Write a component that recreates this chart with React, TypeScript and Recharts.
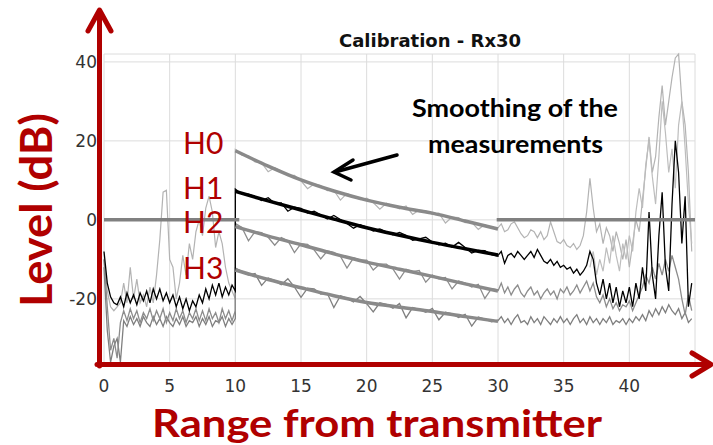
import React from 'react';
import { LineChart, Line, XAxis, YAxis, CartesianGrid } from 'recharts';

// sampling grids (x in range units)
const xLeft = Array.from({ length: 41 }, (_, i) => i * 0.25);
const xMid = Array.from({ length: 41 }, (_, i) => 10 + i * 0.5);
const xRight = Array.from({ length: 60 }, (_, i) => 30 + i * 0.25);
const xSmooth = [10, 12.5, 15, 17.5, 20, 22.5, 25, 27.5, 30];

const xTicks = [0, 5, 10, 15, 20, 25, 30, 35, 40];
const yTicks = [-20, 0, 20, 40];

// H0 raw (light grey)
const raw0Left = [-10, -18, -22, -23, -22, -21, -16, -21, -12, -20, -15, -21, -19, -22, -17, -21, -14, -5, 7, 7.5, -10, -12, -20, -16, -9, -14, -6, -10, -3, 0, -4, 3, 6, 2, -7, -3, -6, -12, -16, -18, -20];
const raw0Mid = [17.8, 16.4, 16.2, 14.7, 14.4, 12.2, 13.2, 12.4, 11.2, 11.3, 9.9, 7.9, 9.1, 8.7, 7.4, 7.5, 5.0, 6.7, 5.9, 5.1, 5.5, 4.4, 2.7, 4.2, 3.6, 2.8, 3.5, 1.4, 2.5, 2.3, 1.4, 1.7, -0.8, 0.7, 0.6, -0.7, -0.6, -2.4, -1.2, -2.1, -2.0];
const raw0Right = [-2, -1, -3, -2.5, -1, -0.5, -2, -3.5, -4.5, -4, -2.5, -3, -4.5, -3, -5, -4, -0.5, -3, -5.5, -6, -5, -6.5, -7, -6, -7.5, -6.5, -4, 2, 10.5, 3, -3, -1, -6, -2, -4, -8, -3, -6, -10, -5, -12, -6, 0, -3, 5, 13, 21, 12, 16, 26, 34, 24, 30, 36, 41, 42, 30, 24, 12, -8];
const rawExtra = [-12, -8, -14, -10, -13, -7, -11, -4, -9, -13, -6, -10, -4, -8, 2, 8, 3, 14, 20, 11, 4, 16, 30, 22, 12, 18, 8, 24, 30, 18, 4, -6];

// H1 raw (black)
const raw1Left = [-8, -16, -19.5, -21, -21.5, -19.5, -22, -18.5, -21, -19, -21.5, -18.5, -20.5, -18, -21, -17.5, -20, -17.5, -20.5, -18.5, -21, -19, -22, -19.5, -22.5, -20, -23, -20.5, -22, -19, -21, -17.5, -20, -16.5, -19, -16, -19.5, -17, -19, -16.5, -18];
const raw1Mid = [7.8, 6.5, 6.5, 5.9, 4.9, 5.6, 4.2, 4.3, 2.2, 3.2, 2.9, 1.7, 2.2, 1.3, 0.2, 1.1, 0.1, -0.9, -2.1, -1.2, -1.8, -2.8, -2.3, -3.0, -3.8, -3.2, -3.9, -5.2, -4.8, -4.4, -5.6, -6.3, -5.9, -6.9, -5.7, -7.0, -8.4, -7.7, -7.8, -8.8, -9.2];
const raw1Right = [-9, -8, -11, -9, -8.5, -9.5, -8, -9, -10, -9, -8, -9.5, -7.5, -9, -10.5, -11, -10, -11.5, -10.5, -12, -11.5, -12.5, -12, -13.5, -12.5, -14, -13, -11.5, -8, -10, -16, -19, -15, -20, -16, -21, -17, -22, -18, -21, -17, -22, -16, -20, -12, -18, 2, -14, -20, -4, 7, -12, -18, 4, 20, 12, -6, 6, -22, -16];

// H2 raw (grey)
const raw2Left = [-10, -22, -33, -30, -35, -26, -23, -25.5, -22.5, -25, -23, -26, -23.5, -25, -22.5, -25.5, -23, -25, -22.5, -26, -23.5, -25.5, -22.5, -25, -23, -26, -23.5, -25, -22.5, -25.5, -23, -25.5, -22.5, -25, -23.5, -26, -22.5, -25, -23, -25.5, -23];
const raw2Mid = [-0.9, -1.9, -5.3, -3.0, -3.2, -4.4, -6.4, -4.5, -5.3, -8.3, -6.0, -6.2, -7.6, -9.9, -7.9, -8.2, -9.2, -12.2, -9.6, -10.2, -10.2, -12.7, -11.2, -11.2, -12.4, -15.0, -12.5, -13.1, -12.8, -15.8, -14.0, -14.9, -14.6, -17.5, -15.5, -16.0, -17.0, -16.3, -19.9, -17.4, -17.7];
const raw2Right = [-18, -16, -18.5, -17, -19, -17.5, -16.5, -18.5, -19.5, -18, -17, -19, -18, -20, -18.5, -17.5, -19, -18, -20, -17.5, -18.5, -17, -19, -18, -16.5, -18.5, -17, -15.5, -18, -16, -19.5, -21, -19, -22, -20, -22.5, -21, -23, -21.5, -22, -20.5, -23, -21, -19, -17, -14, -16, -12, -15, -11, -14, -10, -13, -9, -12, -15, -20, -24, -19, -23];

// H3 raw (grey)
const raw3Left = [-12, -28, -36, -32, -30, -36, -25.5, -27, -24.5, -26.5, -25, -27, -24.5, -26, -27, -24.5, -26.5, -25, -27, -24.5, -26, -27, -25, -26.5, -24.5, -27, -25.5, -26, -24.5, -27, -25, -26.5, -24.5, -27, -25.5, -26, -24.5, -27, -25, -26.5, -25];
const raw3Mid = [-12.2, -13.0, -14.0, -13.6, -16.6, -14.7, -15.4, -16.4, -14.9, -17.0, -19.6, -17.3, -17.5, -18.8, -18.6, -22.2, -19.2, -19.8, -20.8, -19.4, -21.2, -23.3, -21.0, -21.4, -22.4, -21.2, -24.8, -22.2, -22.7, -23.4, -22.4, -25.3, -23.4, -23.8, -24.7, -23.9, -26.9, -24.6, -25.1, -25.8, -25.4];
const raw3Right = [-25.5, -24.5, -26, -25, -26.5, -25, -24, -26, -25.5, -26.5, -24.5, -26, -25, -26.5, -24.5, -25.5, -26.5, -25, -26, -24.5, -26, -25, -26.5, -25, -24, -26, -25, -26.5, -24.5, -26, -25, -26.5, -25, -26, -24.5, -26.5, -25.5, -26, -25, -26.5, -25, -26, -24.5, -25.5, -24, -25.5, -23, -24.5, -22.5, -24, -22, -23.5, -21.5, -23, -24, -22.5, -25, -23.5, -26, -25];

// smoothed levels
const h0Smooth = [17.5, 13.6, 10.1, 7.3, 5.0, 3.2, 1.7, -0.3, -2.3];
const h1Smooth = [7.2, 4.8, 2.5, 0.2, -2.0, -3.9, -5.7, -7.3, -8.9];
const h2Smooth = [-1.7, -4.1, -6.3, -8.6, -10.7, -12.5, -14.3, -16.2, -18.0];
const h3Smooth = [-12.7, -15.1, -17.2, -19.2, -20.9, -22.1, -23.2, -24.5, -25.7];

// 0 dB reference (gap between the two parts)
const zeroX = [0, 10.3, 20, 29.9, 45];
const zeroY = [0, 0, null, 0, 0];

const pts = (xs: number[], ys: (number | null)[]) => ys.map((y, i) => ({ x: xs[i], y }));

const raw0 = [...pts(xLeft, raw0Left), ...pts(xMid, raw0Mid), ...pts(xRight, raw0Right)];
const raw1 = [...pts(xLeft, raw1Left), ...pts(xMid, raw1Mid), ...pts(xRight, raw1Right)];
const raw2 = [...pts(xLeft, raw2Left), ...pts(xMid, raw2Mid), ...pts(xRight, raw2Right)];
const raw3 = [...pts(xLeft, raw3Left), ...pts(xMid, raw3Mid), ...pts(xRight, raw3Right)];
const extra = pts(xRight.slice(28), rawExtra);

const RED = '#b00000';
const tickStyle = { fontFamily: 'DejaVu Sans', fontSize: 17, fill: '#333' };

const Overlay = () => (
  <svg width={713} height={445} style={{ position: 'absolute', left: 0, top: 0, pointerEvents: 'none' }}>
    <text x={430} y={47} textAnchor="middle" fontFamily="DejaVu Sans" fontWeight="bold" fontSize={18} fill="#111">
      Calibration - Rx30
    </text>

    {/* red axes */}
    <g stroke={RED} strokeWidth={5} fill="none" strokeLinecap="round" strokeLinejoin="round">
      <line x1={99.5} y1={366} x2={99.5} y2={12} />
      <polyline points="88,31 99.5,10 111,31" />
      <line x1={97} y1={364.5} x2={708} y2={364.5} />
      <polyline points="692,353 711,364.5 692,376" />
    </g>

    <g fontFamily="Lato" fontSize={30} fill={RED}>
      <text x={183} y={154}>H0</text>
      <text x={183} y={199}>H1</text>
      <text x={183} y={233}>H2</text>
      <text x={183} y={279}>H3</text>
    </g>

    <g fontFamily="Lato" fontWeight="bold" fontSize={25} fill="#000">
      <text x={412} y={117} textLength={206} lengthAdjust="spacingAndGlyphs">Smoothing of the</text>
      <text x={428} y={153} textLength={175} lengthAdjust="spacingAndGlyphs">measurements</text>
    </g>
    <g stroke="#000" strokeWidth={3.5} fill="none" strokeLinecap="round">
      <line x1={397} y1={155} x2={335} y2={172} />
      <polyline points="353,160 334,172 351,180" />
    </g>

    <text
      transform="translate(52,210) rotate(-90)"
      textAnchor="middle"
      fontFamily="Lato"
      fontWeight="bold"
      fontSize={44}
      fill={RED}
      textLength={194}
      lengthAdjust="spacingAndGlyphs"
    >
      Level (dB)
    </text>
    <text
      x={152}
      y={437}
      fontFamily="Lato"
      fontWeight="bold"
      fontSize={38}
      fill={RED}
      textLength={450}
      lengthAdjust="spacingAndGlyphs"
    >
      Range from transmitter
    </text>
  </svg>
);

export default function App() {
  return (
    <div style={{ position: 'absolute', left: 0, top: 0, width: 713, height: 445, background: '#fff' }}>
      <LineChart width={713} height={445} margin={{ top: 54, right: 18, bottom: 49, left: 44 }}>
        <CartesianGrid stroke="#dcdcdc" strokeWidth={1} />
        <XAxis
          dataKey="x"
          type="number"
          domain={[0, 45]}
          ticks={xTicks}
          axisLine={false}
          tickLine={false}
          tickMargin={8}
          tick={tickStyle}
          height={30}
        />
        <YAxis
          type="number"
          domain={[-37, 42]}
          ticks={yTicks}
          axisLine={false}
          tickLine={false}
          tickMargin={1}
          tick={tickStyle}
          width={60}
        />
        <Line data={raw0} dataKey="y" stroke="#b3b3b3" strokeWidth={1.2} dot={false} activeDot={false} isAnimationActive={false} />
        <Line data={extra} dataKey="y" stroke="#bdbdbd" strokeWidth={1.2} dot={false} activeDot={false} isAnimationActive={false} />
        <Line data={raw3} dataKey="y" stroke="#7f7f7f" strokeWidth={1.3} dot={false} activeDot={false} isAnimationActive={false} />
        <Line data={raw2} dataKey="y" stroke="#8c8c8c" strokeWidth={1.3} dot={false} activeDot={false} isAnimationActive={false} />
        <Line data={raw1} dataKey="y" stroke="#000" strokeWidth={1.3} dot={false} activeDot={false} isAnimationActive={false} />
        <Line data={pts(xSmooth, h0Smooth)} dataKey="y" type="monotone" stroke="#8a8a8a" strokeWidth={3.5} dot={false} activeDot={false} isAnimationActive={false} />
        <Line data={pts(xSmooth, h2Smooth)} dataKey="y" type="monotone" stroke="#8a8a8a" strokeWidth={3.5} dot={false} activeDot={false} isAnimationActive={false} />
        <Line data={pts(xSmooth, h3Smooth)} dataKey="y" type="monotone" stroke="#8a8a8a" strokeWidth={3.5} dot={false} activeDot={false} isAnimationActive={false} />
        <Line data={pts(xSmooth, h1Smooth)} dataKey="y" type="monotone" stroke="#000" strokeWidth={3.5} dot={false} activeDot={false} isAnimationActive={false} />
        <Line data={pts(zeroX, zeroY)} dataKey="y" stroke="#808080" strokeWidth={3.5} dot={false} activeDot={false} isAnimationActive={false} />
      </LineChart>
      <Overlay />
    </div>
  );
}
